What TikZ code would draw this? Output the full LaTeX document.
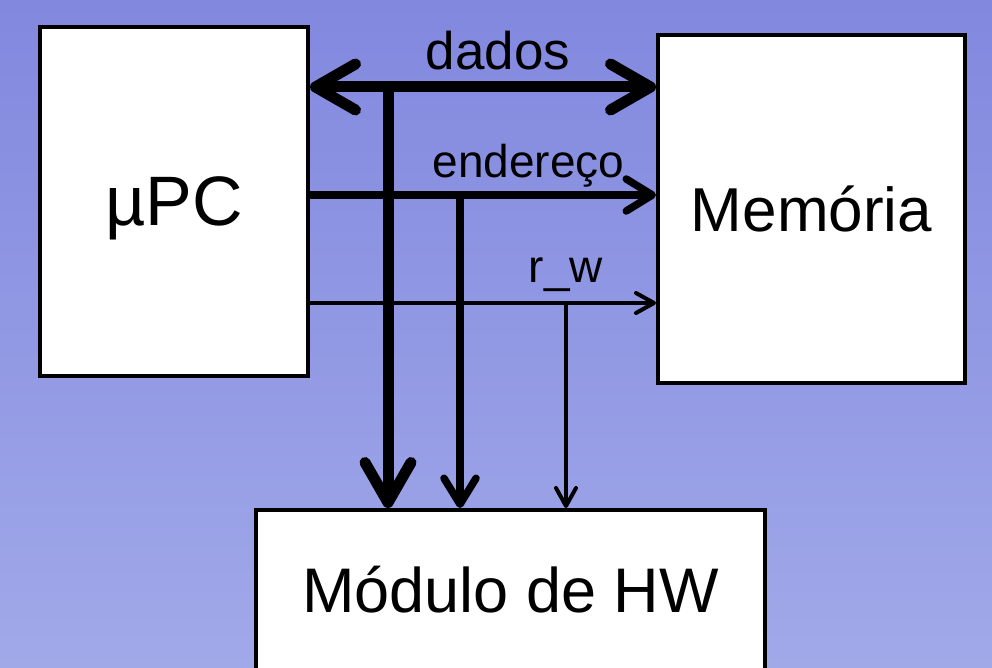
\documentclass[tikz,border=0pt]{standalone}
\usepackage{fontspec}
\setmainfont{Liberation Sans}
\usetikzlibrary{arrows.meta,positioning}
\definecolor{bgtop}{RGB}{130,136,222}
\definecolor{bgbottom}{RGB}{161,169,233}

\begin{document}
\begin{tikzpicture}[
		x=1pt, y=-1pt,
		block/.style={draw, line width=4pt, fill=white, inner sep=0pt},
		buslabel/.style={anchor=base, inner sep=0pt},
		wide/.style={line width=11pt},
		mid/.style={line width=7.5pt},
		thin/.style={line width=4pt},
		widetip/.tip={Straight Barb[round, length=40pt, width=46pt]},
		midtip/.tip={Straight Barb[round, length=26pt, width=32pt]},
		thintip/.tip={Straight Barb[round, length=18pt, width=20pt]},
	]
		\path[clip] (0,0) rectangle (992,668);
		\fill[top color=bgtop, bottom color=bgbottom] (0,0) rectangle (992,668);

		\node (upc) [block, minimum width=268pt, minimum height=349pt, text depth=0pt, font=\fontsize{70}{84}\selectfont] at (174,201.5) {µPC};
		\node (mem) [block, minimum width=307pt, minimum height=348pt, font=\fontsize{62}{74}\selectfont] at (811.5,209) {Memória};
		\node (hw) [block, minimum width=509pt, minimum height=160pt, font=\fontsize{63}{76}\selectfont] at (510.5,590) {Módulo de HW};

		\coordinate (dj) at (388,87);
		\coordinate (ej) at (460,195);
		\coordinate (rj) at (566,303);

		\node (ldados) [buslabel, font=\fontsize{53}{63}\selectfont] at (498,70) {dados};
		\node (lend) [buslabel, font=\fontsize{46}{55}\selectfont] at (528.5,178) {endereço};
		\node (lrw) [buslabel, font=\fontsize{46}{55}\selectfont] at (566,282) {r\_w};

		\draw[wide, widetip-widetip] (upc.east |- dj) -- (mem.west |- dj);
		\draw[wide, -widetip] (dj) -- (dj |- hw.north);
		\draw[mid, -midtip] (upc.east |- ej) -- (mem.west |- ej);
		\draw[mid, -midtip] (ej) -- (ej |- hw.north);
		\draw[thin, -thintip] (upc.east |- rj) -- (mem.west |- rj);
		\draw[thin, -thintip] (rj) -- (rj |- hw.north);
	\end{tikzpicture}
\end{document}
